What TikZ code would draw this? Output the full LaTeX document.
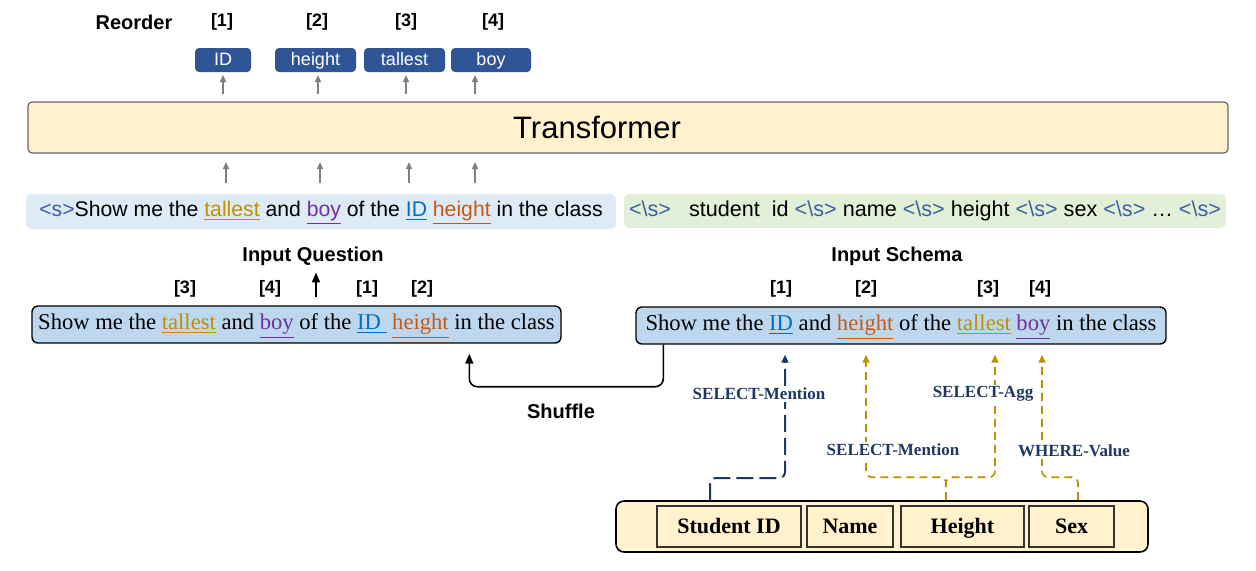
\documentclass[tikz,border=0pt]{standalone}
\usepackage{fontspec}
\setmainfont{Liberation Serif}
\setsansfont{Liberation Sans}
\usetikzlibrary{arrows.meta}

\definecolor{tokblue}{HTML}{2F5597}
\definecolor{tfyellow}{HTML}{FFF2CC}
\definecolor{qblue}{HTML}{DEEBF7}
\definecolor{sgreen}{HTML}{E2F0D9}
\definecolor{boxblue}{HTML}{BDD7EE}
\definecolor{wgold}{HTML}{BF9000}
\definecolor{wblue}{HTML}{0070C0}
\definecolor{worange}{HTML}{C55A11}
\definecolor{wpurple}{HTML}{7030A0}
\definecolor{relnavy}{HTML}{1F3864}
\definecolor{stokcol}{HTML}{3E5F9E}
\definecolor{arrowgray}{HTML}{7F7F7F}

\newcommand{\fsz}[1]{\fontsize{#1}{#1}\selectfont}
\newcommand{\uword}[2]{\textcolor{#1}{\underline{#2}}}
\newcommand{\stok}{\textcolor{stokcol}{<s>}}
\newcommand{\etok}{\textcolor{stokcol}{<\textbackslash s>}}

\begin{document}
\begin{tikzpicture}[x=0.5pt,y=-0.5pt,
    tok/.style={fill=tokblue,rounded corners=2pt,text=white,font=\sffamily\fsz{9pt},minimum height=12pt,inner sep=0pt,text height=1.55ex,text depth=0.45ex},
    idx/.style={font=\sffamily\bfseries\fsz{9pt}},
    head/.style={font=\sffamily\bfseries\fsz{10pt}},
    garrow/.style={draw=arrowgray,line width=0.7pt,-{Triangle[width=3pt,length=3.5pt]}},
    sent/.style={draw=black,fill=boxblue,rounded corners=3pt,line width=0.7pt,minimum height=18.5pt,inner sep=0pt,font=\fsz{11.3pt},text height=1.6ex,text depth=0.5ex},
    cell/.style={draw=black!80,fill=tfyellow,line width=0.6pt,minimum height=20.5pt,inner sep=0pt,font=\bfseries\fsz{11pt},text height=1.9ex,text depth=0.3ex},
    rel/.style={fill=white,inner sep=1pt,text=relnavy,font=\bfseries\fsz{8.5pt}},
    gdash/.style={draw=wgold,line width=0.8pt,dash pattern=on 4pt off 2.5pt,rounded corners=3pt,-{Triangle[width=3.5pt,length=4pt]}},
    ndash/.style={draw=relnavy,line width=1pt,dash pattern=on 8.5pt off 3pt,rounded corners=3pt,-{Triangle[width=3.5pt,length=4pt]}}]
    \useasboundingbox (0,0) rectangle (1256,570);

    % reorder output
    \node[head] (reord) at (134,22) {Reorder};
    \node[idx] (o1) at (222,22) {[1]};
    \node[idx] (o2) at (317,22) {[2]};
    \node[idx] (o3) at (406,22) {[3]};
    \node[idx] (o4) at (493,22) {[4]};
    \node[tok,minimum width=28pt] (tid) at (223,60) {ID};
    \node[tok,minimum width=40.5pt] (theight) at (315.5,60) {height};
    \node[tok,minimum width=40.5pt] (ttallest) at (404.5,60) {tallest};
    \node[tok,minimum width=40pt] (tboy) at (491,60) {boy};
    \foreach \x in {223,318,406,475} \draw[garrow] (\x,94) -- (\x,75);

    % transformer
    \node[draw=black!60,fill=tfyellow,rounded corners=2pt,line width=0.6pt,minimum width=600pt,minimum height=25.5pt] (tf) at (628,127.5) {};
    \node[font=\sffamily\fsz{15.5pt}] (tftext) at (597,127) {Transformer};
    \foreach \x in {226,320,409,475} \draw[garrow] (\x,183) -- (\x,162);

    % encoder input
    \node[fill=qblue,rounded corners=3pt,minimum width=295pt,minimum height=17.5pt,inner sep=0pt,font=\sffamily\fsz{10.6pt},text height=1.6ex,text depth=0.5ex] (qin) at (321,211.5)
        {\stok Show me the \uword{wgold}{tallest} and \uword{wpurple}{boy} of the \uword{wblue}{ID} \uword{worange}{height} in the class};
    \node[fill=sgreen,rounded corners=3pt,minimum width=301pt,minimum height=17pt,inner sep=0pt,font=\sffamily\fsz{10.8pt},text height=1.6ex,text depth=0.5ex] (sin) at (925,211)
        {\etok\ \ \ student\ \ id \etok{} name \etok{} height \etok{} sex \etok{} \dots{} \etok};

    \node[head] (iq) at (313,256) {Input Question};
    \node[head] (is) at (897,256) {Input Schema};

    % shuffled question
    \node[idx] (l3) at (185,289) {[3]};
    \node[idx] (l4) at (270,289) {[4]};
    \node[idx] (l1) at (367,289) {[1]};
    \node[idx] (l2) at (422,289) {[2]};
    \node[sent,minimum width=264.5pt] (lq) at (296.5,324.5)
        {Show me the \uword{wgold}{tallest} and \uword{wpurple}{boy} of the \uword{wblue}{ID\ } \uword{worange}{height} in the class};
    \draw[line width=0.8pt,-{Triangle[width=4pt,length=5pt]}] ([xshift=9.75pt,yshift=4pt]lq.north) -- ([xshift=1.5pt]iq.south);

    % original question
    \node[idx] (r1) at (781,289) {[1]};
    \node[idx] (r2) at (866,289) {[2]};
    \node[idx] (r3) at (988,289) {[3]};
    \node[idx] (r4) at (1040,289) {[4]};
    \node[sent,minimum width=265pt] (rq) at (901,325.5)
        {Show me the \uword{wblue}{ID} and \uword{worange}{height} of the \uword{wgold}{tallest} \uword{wpurple}{boy} in the class};

    \draw[line width=0.8pt,rounded corners=4pt,-{Triangle[width=4pt,length=5pt]}] ([xshift=14pt]rq.south west) -- ++(0,42) -| ([xshift=219pt,yshift=-5pt]lq.south west);
    \node[head] (shuf) at (561,411) {Shuffle};

    % table
    \node[draw=black,fill=tfyellow,rounded corners=4pt,line width=0.8pt,minimum width=266pt,minimum height=25.5pt] (tbl) at (882,526.5) {};
    \node[cell,minimum width=72pt] (csid) at (729,526.5) {Student ID};
    \node[cell,minimum width=43pt] (cname) at (850,526.5) {Name};
    \node[cell,minimum width=61.5pt] (cheight) at (962.5,526.5) {Height};
    \node[cell,minimum width=42.5pt] (csex) at (1071.5,526.5) {Sex};

    % relations
    \draw[ndash] ([xshift=-9.5pt]csid.north |- tbl.north) |- (785,478) -- ([xshift=-58pt,yshift=-5pt]rq.south);
    \draw[gdash] ([xshift=-8.25pt]cheight.north |- tbl.north) -- ++(0,-23) -| ([xshift=-17.5pt,yshift=-5pt]rq.south);
    \draw[gdash] ([xshift=-8.25pt]cheight.north |- tbl.north) -- ++(0,-23) -| ([xshift=47pt,yshift=-5pt]rq.south);
    \draw[gdash] ([xshift=3.25pt]csex.north |- tbl.north) -- ++(0,-23) -| ([xshift=70.5pt,yshift=-5pt]rq.south);
    \node[rel] (lm1) at (759,394) {SELECT-Mention};
    \node[rel] (lagg) at (983,394) {SELECT-Agg};
    \node[rel] (lm2) at (893,450) {SELECT-Mention};
    \node[rel] (lwv) at (1074,451) {WHERE-Value};
\end{tikzpicture}
\end{document}
